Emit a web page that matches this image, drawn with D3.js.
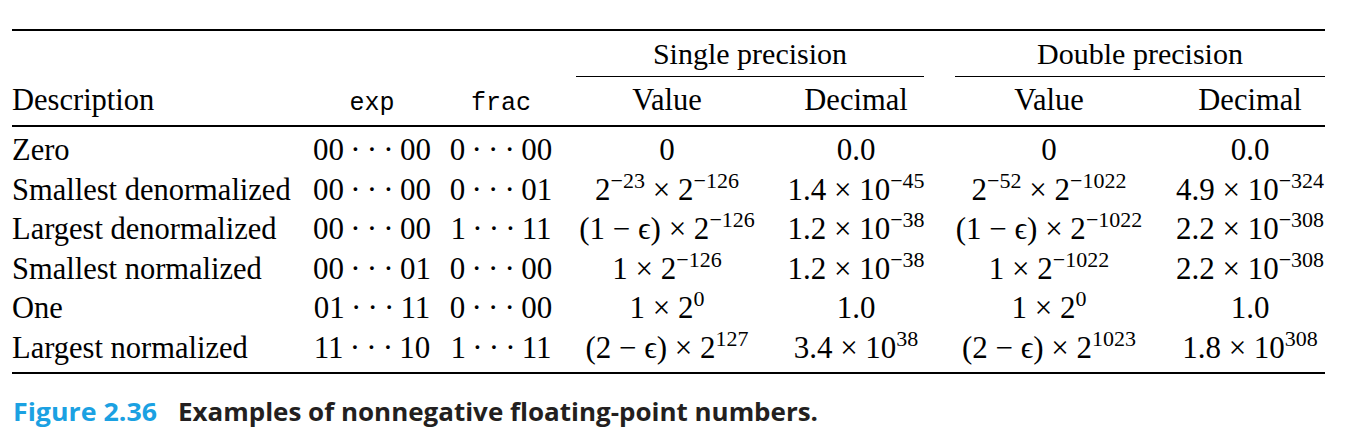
<!DOCTYPE html>
<html lang="en">
<head>
    <meta charset="UTF-8">
    <script src="https://cdn.jsdelivr.net/npm/d3@7"></script>
    <title>Figure 2.36</title>
    <style>
        body { margin: 0; background: #fff; }
    </style>
</head>
<body>
<script>
    // table data
    const descriptions = ['Zero', 'Smallest denormalized', 'Largest denormalized',
                          'Smallest normalized', 'One', 'Largest normalized'];
    const expBits  = ['00 · · · 00', '00 · · · 00', '00 · · · 00', '00 · · · 01', '01 · · · 11', '11 · · · 10'];
    const fracBits = ['0 · · · 00', '0 · · · 01', '1 · · · 11', '0 · · · 00', '0 · · · 00', '1 · · · 11'];
    const singleValue   = ['0', '2^{−23} × 2^{−126}', '(1 − ϵ) × 2^{−126}', '1 × 2^{−126}', '1 × 2^{0}', '(2 − ϵ) × 2^{127}'];
    const singleDecimal = ['0.0', '1.4 × 10^{−45}', '1.2 × 10^{−38}', '1.2 × 10^{−38}', '1.0', '3.4 × 10^{38}'];
    const doubleValue   = ['0', '2^{−52} × 2^{−1022}', '(1 − ϵ) × 2^{−1022}', '1 × 2^{−1022}', '1 × 2^{0}', '(2 − ϵ) × 2^{1023}'];
    const doubleDecimal = ['0.0', '4.9 × 10^{−324}', '2.2 × 10^{−308}', '2.2 × 10^{−308}', '1.0', '1.8 × 10^{308}'];
    const groupLabels  = ['Single precision', 'Double precision'];
    const columnLabels = ['Description', 'exp', 'frac', 'Value', 'Decimal', 'Value', 'Decimal'];
    const captionNum  = 'Figure 2.36';
    const captionText = 'Examples of nonnegative floating-point numbers.';

    const W = 1354, H = 434;
    const serif = '"Liberation Serif", "Times New Roman", serif';
    const mono = '"Liberation Mono", monospace';

    let svg = d3.select('body').append('svg')
        .attr('width', W)
        .attr('height', H);

    // column centres
    const colKeys = ['exp', 'frac', 'sv', 'sd', 'dv', 'dd'];
    const x = d3.scaleOrdinal().domain(colKeys).range([372, 501, 667, 856, 1049, 1250]);
    const y = d3.scalePoint().domain(descriptions).range([160, 358]);

    const left = 12, right = 1325;

    // rules
    const rule = (x1, x2, yy, w) => svg.append('line')
        .attr('x1', x1).attr('x2', x2).attr('y1', yy).attr('y2', yy)
        .attr('stroke', '#000').attr('stroke-width', w);
    rule(left, right, 30, 2.2);
    rule(576, 924, 76.5, 1.2);
    rule(955, right, 76.5, 1.2);
    rule(left, right, 126, 2);
    rule(left, right, 373, 2.2);

    // thin spaces around the dots, like \cdots
    const bits = s => s.replace(/ /g, '\u2009');

    // write "a^{b}" as text with superscript tspans
    function mathText(sel, str) {
        let parts = str.split(/\^\{([^}]*)\}/);
        let raised = false;
        parts.forEach((p, i) => {
            if (p === '') return;
            let isSup = i % 2 === 1;
            let t = sel.append('tspan').text(p);
            if (isSup) {
                t.attr('font-size', 22).attr('dy', raised ? 0 : -12);
                raised = true;
            } else {
                t.attr('font-size', 31).attr('dy', raised ? 12 : 0);
                raised = false;
            }
        });
    }

    // group headers
    svg.selectAll('text.group')
        .data(groupLabels)
        .join('text')
        .attr('class', 'group')
        .attr('x', (d, i) => i === 0 ? 750 : 1140)
        .attr('y', 64)
        .attr('text-anchor', 'middle')
        .attr('font-family', serif)
        .attr('font-size', 30)
        .text(d => d);

    // column headers
    const headX = [left].concat(colKeys.map(k => x(k)));
    svg.selectAll('text.head')
        .data(columnLabels)
        .join('text')
        .attr('class', 'head')
        .attr('x', (d, i) => headX[i])
        .attr('y', 110)
        .attr('text-anchor', (d, i) => i === 0 ? 'start' : 'middle')
        .attr('font-family', (d, i) => (i === 1 || i === 2) ? mono : serif)
        .attr('font-size', (d, i) => (i === 1 || i === 2) ? 25 : 30.5)
        .text(d => d);

    // body rows
    svg.selectAll('text.desc')
        .data(descriptions)
        .join('text')
        .attr('class', 'desc')
        .attr('x', left)
        .attr('y', d => y(d))
        .attr('font-family', serif)
        .attr('font-size', 30.5)
        .text(d => d);

    const cols = [
        ['exp', expBits.map(bits)], ['frac', fracBits.map(bits)],
        ['sv', singleValue], ['sd', singleDecimal],
        ['dv', doubleValue], ['dd', doubleDecimal]
    ];
    cols.forEach(([key, vals]) => {
        svg.selectAll('text.c-' + key)
            .data(vals)
            .join('text')
            .attr('class', 'c-' + key)
            .attr('x', x(key))
            .attr('y', (d, i) => y(descriptions[i]))
            .attr('text-anchor', 'middle')
            .attr('font-family', serif)
            .attr('font-size', 31)
            .each(function(d) { mathText(d3.select(this), d); });
    });

    // caption
    let cap = svg.append('text')
        .attr('x', 13)
        .attr('y', 421)
        .attr('font-family', '"Open Sans", "Noto Sans", sans-serif')
        .attr('font-weight', 'bold')
        .attr('font-size', 25);
    cap.append('tspan')
        .attr('fill', '#1ba1e2')
        .attr('textLength', 144)
        .attr('lengthAdjust', 'spacingAndGlyphs')
        .text(captionNum);
    cap.append('tspan')
        .attr('x', 178)
        .attr('fill', '#231f20')
        .attr('textLength', 640)
        .attr('lengthAdjust', 'spacingAndGlyphs')
        .text(captionText);
</script>
</body>
</html>
